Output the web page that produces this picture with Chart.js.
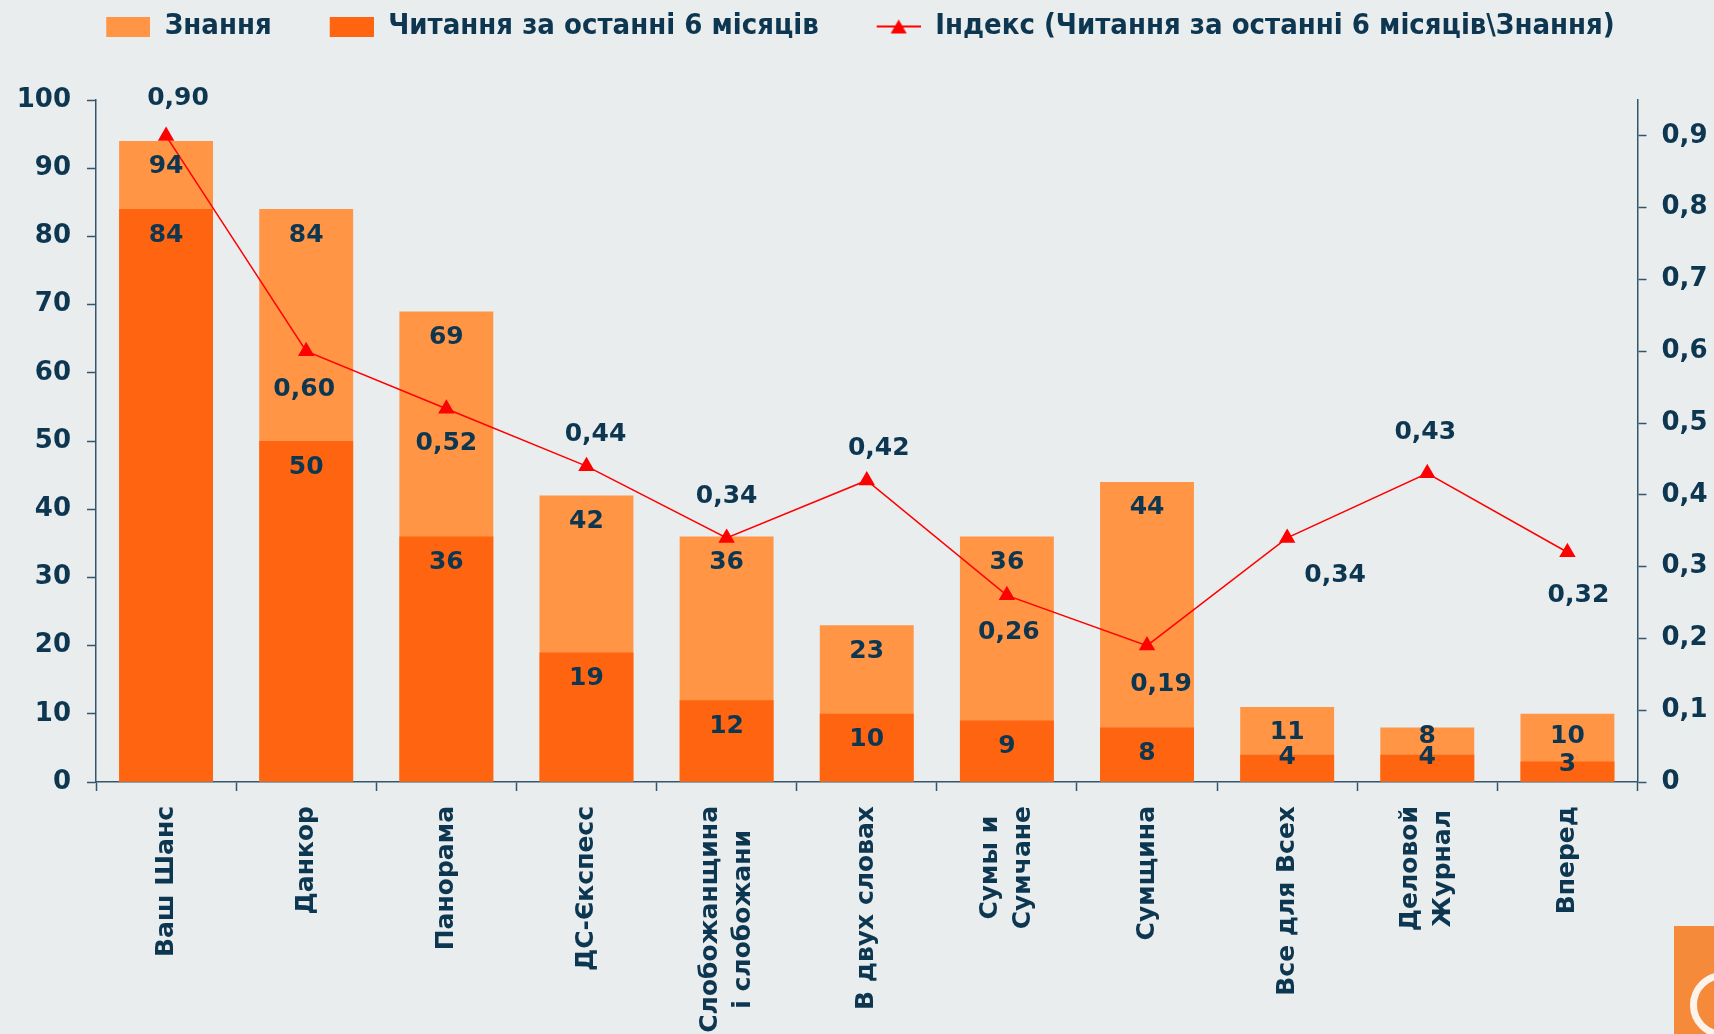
<!DOCTYPE html>
<html>
<head>
<meta charset="utf-8">
<script src="https://cdn.jsdelivr.net/npm/chart.js@4.4.1/dist/chart.umd.min.js"></script>
<style>
  body { margin: 0; background: #e9edee; }
  #wrap { position: relative; width: 1714px; height: 1034px; overflow: hidden; }
  #logo { position: absolute; left: 1674px; top: 926px; width: 40px; height: 108px; background: #f58a3b; overflow: hidden; }
  #logo .ring { position: absolute; left: 16px; top: 46px; width: 52px; height: 52px; border: 7px solid #fbf3ec; border-radius: 50%; }
</style>
</head>
<body>
<div id="wrap">
  <canvas id="chart" width="1714" height="1034"></canvas>
  <div id="logo"><div class="ring"></div></div>
</div>
<script>
// categories (multi-line where the original wraps)
const categories = [
  ["Ваш Шанс"], ["Данкор"], ["Панорама"], ["ДС-Єкспесс"],
  ["Слобожанщина", "і слобожани"], ["В двух словах"], ["Сумы и", "Сумчане"],
  ["Сумщина"], ["Все для Всех"], ["Деловой", "Журнал"], ["Вперед"]
];
const seriesNames = ["Знання", "Читання за останні 6 місяців", "Індекс (Читання за останні 6 місяців\\Знання)"];
const awareness = [94, 84, 69, 42, 36, 23, 36, 44, 11, 8, 10];
const reading = [84, 50, 36, 19, 12, 10, 9, 8, 4, 4, 3];
const readIndex = [0.90, 0.60, 0.52, 0.44, 0.34, 0.42, 0.26, 0.19, 0.34, 0.43, 0.32];

// where each index label sits relative to its point (px)
const indexLabelOffsets = [[12, -37], [-2, 38], [0, 35], [9, -32], [0, -41], [12, -32], [2, 37], [14, 39], [48, 38], [-2, -41], [11, 43]];

const textColor = "#0d3651";
const axisColor = "#34566b";
const lightOrange = "#ff9545";
const darkOrange = "#ff6510";
const red = "#ff0000";
const font = "DejaVu Sans";

const fmtIndex = v => v.toFixed(2).replace(".", ",");

// legend markers: transparent lead-in then the swatch
const markerGap = 46;
function makeMarker(kind) {
  const c = document.createElement("canvas");
  c.width = markerGap + 44;
  c.height = 20;
  const g = c.getContext("2d");
  if (kind === "line") {
    g.strokeStyle = red;
    g.lineWidth = 2;
    g.beginPath();
    g.moveTo(markerGap, 10);
    g.lineTo(markerGap + 44, 10);
    g.stroke();
    g.fillStyle = red;
    g.beginPath();
    g.moveTo(markerGap + 22, 3);
    g.lineTo(markerGap + 30, 17);
    g.lineTo(markerGap + 14, 17);
    g.closePath();
    g.fill();
  } else {
    g.fillStyle = kind;
    g.fillRect(markerGap, 0, 44, 20);
  }
  return c;
}
const markers = [makeMarker(lightOrange), makeMarker(darkOrange), makeMarker("line")];

const legendSpacing = {
  id: "legendSpacing",
  beforeInit(chart) {
    const fit = chart.legend.fit;
    chart.legend.fit = function () {
      fit.bind(chart.legend)();
      this.height += 49;
    };
  }
};

// category labels: rotated, lines centred on each other and on the tick
const categoryLabels = {
  id: "categoryLabels",
  afterDraw(chart) {
    const ctx = chart.ctx;
    const xs = chart.scales.x;
    const size = 25, lineH = 33;
    ctx.save();
    ctx.font = "bold " + size + "px '" + font + "'";
    ctx.fillStyle = textColor;
    ctx.textAlign = "center";
    ctx.textBaseline = "middle";
    const y0 = xs.top + 24;
    categories.forEach((lines, i) => {
      const px = xs.getPixelForTick(i);
      const maxW = Math.max(...lines.map(l => ctx.measureText(l).width));
      ctx.save();
      ctx.translate(px, y0);
      ctx.rotate(-Math.PI / 2);
      lines.forEach((ln, k) => {
        ctx.fillText(ln, -maxW / 2, (k - (lines.length - 1) / 2) * lineH);
      });
      ctx.restore();
    });
    ctx.restore();
  }
};

// bar labels sit inside the bar top, index labels above/below the point
const labelFloor = [45, 24];
const valueLabels = {
  id: "valueLabels",
  afterDatasetsDraw(chart) {
    const ctx = chart.ctx;
    ctx.save();
    ctx.font = "bold 25px '" + font + "'";
    ctx.fillStyle = textColor;
    ctx.textAlign = "center";
    ctx.textBaseline = "middle";
    chart.data.datasets.forEach((ds, di) => {
      const meta = chart.getDatasetMeta(di);
      meta.data.forEach((el, i) => {
        const v = ds.data[i];
        if (ds.type === "line") {
          const [dx, dy] = indexLabelOffsets[i];
          ctx.fillText(fmtIndex(v), el.x + dx, el.y + dy);
        } else {
          const h = el.base - el.y;
          const off = Math.min(26, Math.max(3, h - labelFloor[di]));
          ctx.fillText(String(v), el.x, el.y + off);
        }
      });
    });
    ctx.restore();
  }
};

const tickFont = { family: font, size: 26, weight: "bold" };

new Chart(document.getElementById("chart"), {
  data: {
    labels: categories,
    datasets: [
      {
        type: "bar", label: seriesNames[0], data: awareness,
        backgroundColor: lightOrange, grouped: false, order: 2,
        barPercentage: 0.67, categoryPercentage: 1, yAxisID: "y"
      },
      {
        type: "bar", label: seriesNames[1], data: reading,
        backgroundColor: darkOrange, grouped: false, order: 1,
        barPercentage: 0.67, categoryPercentage: 1, yAxisID: "y"
      },
      {
        type: "line", label: seriesNames[2], data: readIndex,
        borderColor: red, borderWidth: 1.5, backgroundColor: red,
        pointStyle: "triangle", pointRadius: 8, pointBackgroundColor: red, pointBorderColor: red,
        tension: 0, order: 0, yAxisID: "y2"
      }
    ]
  },
  options: {
    responsive: false,
    animation: false,
    layout: { padding: { left: -39, right: 0, top: 0, bottom: 0 } },
    plugins: {
      tooltip: { enabled: false },
      legend: {
        position: "top",
        align: "center",
        labels: {
          usePointStyle: true,
          pointStyleWidth: markerGap + 44,
          boxHeight: 20,
          padding: 12,
          color: textColor,
          font: { family: "'DejaVu Sans Condensed', 'DejaVu Sans'", size: 29, weight: "bold" },
          generateLabels(chart) {
            const items = Chart.defaults.plugins.legend.labels.generateLabels(chart);
            items.sort((a, b) => a.datasetIndex - b.datasetIndex);
            items.forEach(it => { it.pointStyle = markers[it.datasetIndex]; });
            return items;
          }
        }
      }
    },
    scales: {
      x: {
        offset: true,
        grid: { offset: true, drawOnChartArea: false, tickLength: 9, tickColor: axisColor, tickWidth: 1.5 },
        border: { color: axisColor, width: 1.5 },
        ticks: { display: false },
        afterFit(s) { s.height = 252; }
      },
      y: {
        position: "left", min: 0, max: 100,
        ticks: { stepSize: 10, padding: 16, color: textColor, font: tickFont },
        grid: { drawOnChartArea: false, tickLength: 9, tickColor: axisColor, tickWidth: 1.5 },
        border: { color: axisColor, width: 1.5 },
        afterFit(s) { s.width = 135; }
      },
      y2: {
        position: "right", min: 0, max: 0.95, bounds: "data",
        ticks: {
          stepSize: 0.1, includeBounds: false, padding: 15, color: textColor, font: tickFont,
          callback: v => (v === 0 ? "0" : v.toFixed(1).replace(".", ","))
        },
        grid: { drawOnChartArea: false, tickLength: 9, tickColor: axisColor, tickWidth: 1.5 },
        border: { color: axisColor, width: 1.5 },
        afterFit(s) { s.width = 76.5; }
      }
    }
  },
  plugins: [legendSpacing, valueLabels, categoryLabels]
});
</script>
</body>
</html>
